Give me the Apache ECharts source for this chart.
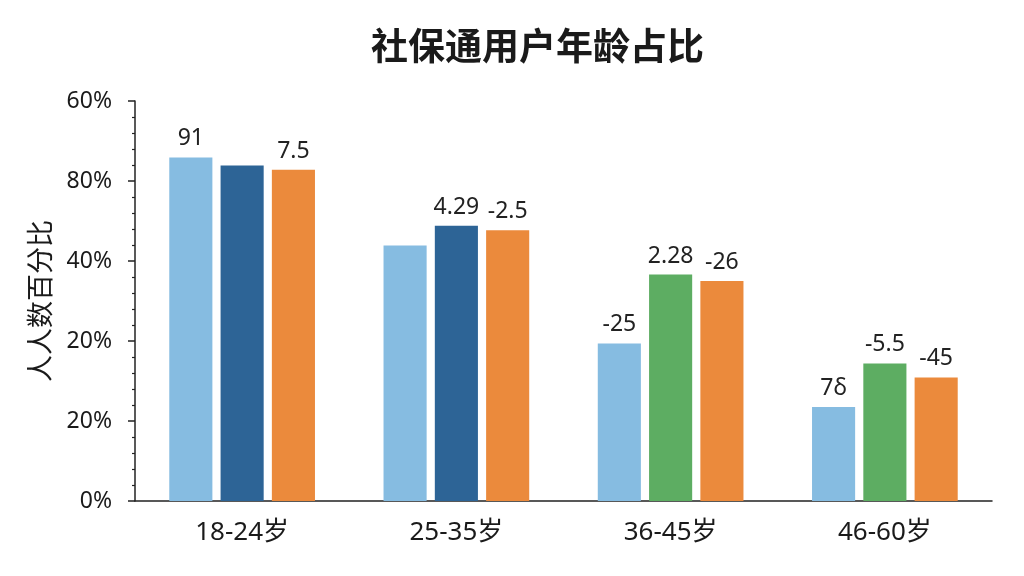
<!DOCTYPE html>
<html>
<head>
<meta charset="utf-8">
<script src="https://cdn.jsdelivr.net/npm/echarts@6/dist/echarts.min.js"></script>
<style>html,body{margin:0;padding:0;background:#fff;}#c{width:1024px;height:576px;}</style>
</head>
<body>
<div id="c"></div>
<script>
const categories = ['18-24岁', '25-35岁', '36-45岁', '46-60岁'];
const values1 = [85.9, 63.9, 39.4, 23.5];
const values2 = [83.9, 68.8, 56.6, 34.4];
const values3 = [82.8, 67.7, 55.0, 30.9];
const labels1 = ['91', '', '-25', '7δ'];
const labels2 = ['', '4.29', '2.28', '-5.5'];
const labels3 = ['7.5', '-2.5', '-26', '-45'];
const yTickLabels = ['0%', '20%', '20%', '40%', '80%', '60%'];

const FONT = '"Noto Sans", "Noto Sans CJK SC", sans-serif';
const middleColors = ['#2D6496', '#2D6496', '#5DAD62', '#5DAD62'];

function lab(arr) {
  return {
    show: true, position: 'top', distance: 7,
    fontSize: 23, color: '#222', fontFamily: FONT,
    formatter: p => arr[p.dataIndex]
  };
}

const chart = echarts.init(document.getElementById('c'));
chart.setOption({
  backgroundColor: '#fff',
  animation: false,
  title: {
    text: '社保通用户年龄占比',
    left: 366, top: 22,
    textStyle: { fontSize: 37, fontWeight: 'bold', color: '#1a1a1a', fontFamily: '"Noto Sans CJK SC", sans-serif' }
  },
  grid: { left: 135, right: 32, top: 101, bottom: 75, containLabel: false },
  xAxis: {
    type: 'category',
    data: categories,
    axisLine: { lineStyle: { color: '#222', width: 1.5 } },
    axisTick: { alignWithLabel: true, length: 9, lineStyle: { color: '#222', width: 1.5 } },
    axisLabel: { fontSize: 26, color: '#1a1a1a', margin: 19, fontFamily: FONT }
  },
  yAxis: {
    type: 'value',
    min: 0, max: 100, interval: 20,
    name: '人人数百分比',
    nameLocation: 'middle',
    nameGap: 82,
    nameTextStyle: { fontSize: 27, color: '#1a1a1a', fontFamily: '"Noto Sans CJK SC", sans-serif' },
    axisLine: { show: true, lineStyle: { color: '#222', width: 1.5 } },
    axisTick: { show: true, length: 7, lineStyle: { color: '#222', width: 1.5 } },
    minorTick: { show: true, splitNumber: 5, length: 3, lineStyle: { color: '#222', width: 1.2 } },
    splitLine: { show: false },
    axisLabel: {
      fontSize: 23, color: '#1a1a1a', margin: 23, fontFamily: FONT,
      formatter: v => yTickLabels[Math.round(v / 20)]
    }
  },
  series: [
    {
      type: 'bar', data: values1, barGap: '19%', barCategoryGap: '32%',
      itemStyle: { color: '#86BCE1' }, label: lab(labels1)
    },
    {
      type: 'bar', data: values2, barGap: '19%', barCategoryGap: '32%',
      itemStyle: { color: p => middleColors[p.dataIndex] }, label: lab(labels2)
    },
    {
      type: 'bar', data: values3, barGap: '19%', barCategoryGap: '32%',
      itemStyle: { color: '#EB8A3C' }, label: lab(labels3)
    }
  ]
});
</script>
</body>
</html>
